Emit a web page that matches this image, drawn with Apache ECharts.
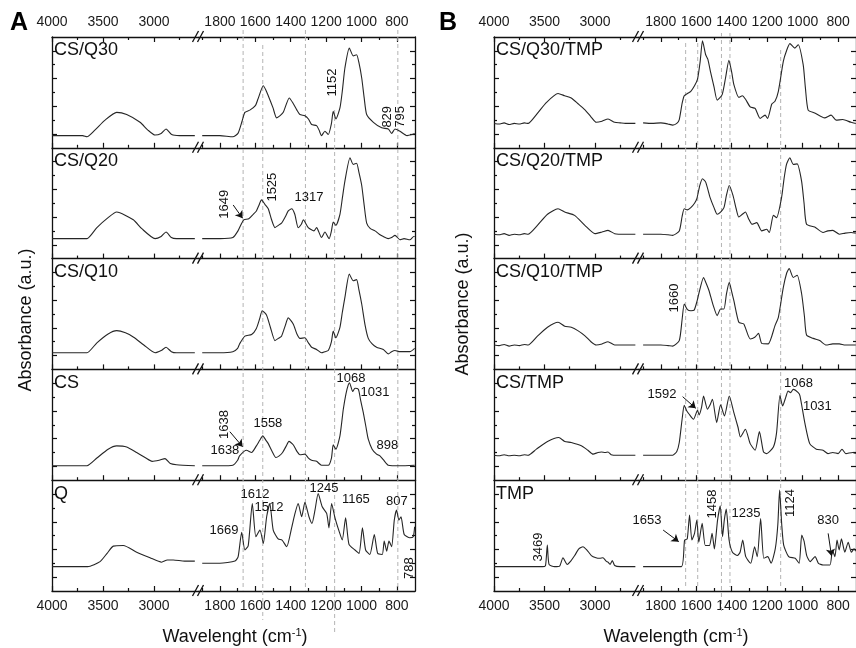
<!DOCTYPE html>
<html>
<head>
<meta charset="utf-8">
<script src="https://cdn.jsdelivr.net/npm/echarts@6/dist/echarts.min.js"></script>
<style>
  html, body { margin: 0; padding: 0; background: #fff; }
  #chart { width: 856px; height: 648px; }
</style>
</head>
<body>
<div id="chart"></div>
<script>
// FTIR spectra, two panels x five stacked rows, broken wavenumber axis.
// Each spectrum is split in a high range (4000-2600) and a low range (1900-700).
// Values are absorbance in arbitrary units, 0-100 per row.

var rowNamesA = ['CS/Q30', 'CS/Q20', 'CS/Q10', 'CS', 'Q'];
var rowNamesB = ['CS/Q30/TMP', 'CS/Q20/TMP', 'CS/Q10/TMP', 'CS/TMP', 'TMP'];

var hiTicks = [3000, 3500, 4000];
var hiMinor = [2750, 3250, 3750];
var loTicks = [800, 1000, 1200, 1400, 1600, 1800];
var loMinor = [900, 1100, 1300, 1500, 1700, 1900];
var yTicks = [12.5, 37.5, 62.5, 87.5];
var yMinor = [25, 50, 75];

// ---- panel A ----
var csq30High = [[4000,11],[3850,11],[3700,11],[3657,10],[3580,16],[3480,25],[3366,32],[3268,30],[3137,23],[3060,16],[2990,11.5],[2930,13],[2882,17],[2827,12],[2750,11],[2600,11]];
var csq30Low = [[1900,11],[1800,11],[1727,10],[1698,13],[1675,24],[1659,32],[1631,34],[1600,38],[1585,44],[1555,56],[1540,52],[1527,47],[1500,36],[1480,27],[1460,29],[1442,32],[1408,45],[1386,40],[1365,34],[1348,30],[1320,29],[1300,26],[1282,21],[1254,20],[1240,16],[1226,11],[1207,15],[1188,12],[1170,22],[1160,33],[1145,26],[1122,36],[1108,52],[1094,72],[1069,90],[1047,83],[1028,84],[1015,77],[999,63],[985,45],[971,30],[933,23],[886,18],[849,17],[830,13],[811,17],[783,15],[743,11],[715,12],[700,13]];

var csq20High = [[4000,18],[3700,18],[3657,18],[3560,28],[3450,37],[3366,42],[3203,35],[3120,27],[2990,18],[2930,20],[2882,24],[2830,19],[2780,18],[2600,18]];
var csq20Low = [[1900,18],[1800,18],[1727,19],[1698,25],[1680,31],[1665,35],[1637,36],[1612,40],[1594,43],[1580,48],[1565,53],[1546,49],[1527,45],[1510,36],[1489,28],[1470,30],[1452,32],[1430,38],[1414,43],[1395,45],[1377,40],[1358,28],[1340,31],[1329,35],[1301,28],[1269,25],[1254,28],[1226,19],[1207,24],[1183,18],[1170,25],[1160,33],[1145,30],[1122,40],[1108,55],[1094,70],[1065,91],[1047,85],[1028,86],[1015,78],[999,66],[985,48],[971,32],[950,27],[924,25],[900,22],[877,20],[849,18],[830,19],[811,21],[783,17],[760,18],[727,17],[705,20],[700,20]];

var csq10High = [[4000,15],[3700,15],[3657,15],[3560,24],[3450,32],[3366,35],[3280,33],[3200,29],[3100,22],[2990,15],[2930,17],[2882,20],[2830,16],[2780,15],[2600,15]];
var csq10Low = [[1900,15],[1800,15],[1727,16],[1700,19],[1689,23],[1659,30],[1621,31.5],[1594,37],[1575,46],[1561,53],[1537,49],[1515,38],[1489,26],[1470,28],[1452,30],[1430,40],[1414,46.5],[1386,41],[1365,32],[1348,28],[1320,28.5],[1300,24],[1282,20],[1254,18],[1226,15],[1207,16],[1188,17],[1170,25],[1160,34.5],[1145,28.5],[1122,38],[1108,52],[1094,65],[1069,86],[1047,80],[1028,81],[1015,72],[999,59],[980,40],[962,28],[940,23],[915,20],[877,18],[849,14],[830,16],[811,17],[783,16],[760,16],[727,16],[700,19]];

var csHigh = [[4000,13],[3700,13],[3657,13],[3560,20],[3450,28],[3366,31],[3268,30],[3170,25],[3080,20],[3019,17],[2950,18],[2892,19.5],[2840,15],[2780,14],[2600,13]];
var csLow = [[1900,13],[1800,13],[1727,13.5],[1700,18],[1689,22],[1650,27],[1621,25],[1594,31],[1575,36],[1558,40],[1540,36],[1527,33],[1505,26],[1484,20.5],[1465,22],[1446,25],[1425,31],[1410,35],[1386,32],[1365,26],[1348,23],[1320,23.5],[1300,20],[1282,18],[1254,17],[1226,13.5],[1188,13.5],[1170,20],[1160,32],[1145,28],[1122,40],[1103,64],[1088,78],[1075,86],[1068,88],[1050,80],[1037,83],[1018,82],[1005,72],[990,61],[975,48],[962,37],[940,28],[915,23.5],[896,22],[877,18.5],[849,13.5],[783,13],[700,13.5]];

var qHigh = [[4000,22],[3800,22],[3650,22],[3529,26.5],[3460,34],[3399,40.5],[3301,41],[3170,35],[3039,30],[2925,26],[2870,28],[2811,28],[2700,27],[2600,27]];
var qLow = [[1900,25],[1800,25],[1715,27],[1697,31],[1677,53],[1659,37],[1640,41],[1617,79],[1597,49],[1574,55],[1555,43],[1536,67],[1518,79],[1499,55],[1471,47],[1449,46],[1423,40],[1395,57],[1376,70],[1358,79],[1338,67],[1320,80],[1297,67],[1280,61],[1263,73],[1245,88],[1222,76],[1197,70],[1184,57],[1169,79],[1150,66],[1127,54],[1109,46],[1090,66],[1071,42],[1037,37],[1014,34],[995,57],[977,37],[953,33],[928,51],[909,34],[883,33],[872,45],[858,36],[845,45],[830,40],[815,64],[802,73],[789,64],[777,67],[759,51],[727,48],[708,49],[700,58]];

// ---- panel B ----
var csq30tmpHigh = [[4000,22],[3950,21.5],[3900,22.5],[3850,21],[3800,22],[3750,21.5],[3700,22.5],[3663,22],[3580,30],[3480,41],[3366,49],[3300,47],[3235,45],[3170,40],[3102,34.5],[3040,28],[2987,23],[2930,24],[2871,26],[2805,23],[2750,22.5],[2700,22],[2600,22]];
var csq30tmpLow = [[1900,22.5],[1850,22],[1800,22.5],[1760,21.5],[1733,20.5],[1710,22],[1696,25.5],[1680,40],[1668,47],[1650,49],[1631,51],[1610,56],[1593,62],[1578,78],[1565,96.5],[1547,84],[1535,80],[1519,68],[1500,55],[1482,43],[1454,48],[1435,63],[1416,79],[1400,68],[1388,57],[1360,45.5],[1340,47],[1323,44],[1296,37],[1268,35.5],[1240,26.5],[1212,29.5],[1198,26.5],[1174,39.5],[1156,42],[1137,51],[1109,78],[1090,88],[1072,94],[1044,90],[1025,93],[997,75],[985,55],[969,34],[932,31.5],[876,27],[839,29.5],[811,25],[774,25.5],[727,23],[700,22]];

var csq20tmpHigh = [[4000,22],[3950,21.5],[3900,22.5],[3850,21],[3800,22],[3750,21.5],[3700,22.5],[3663,22],[3570,30],[3470,40],[3366,45],[3300,42],[3202,39],[3100,30],[3000,22.5],[2930,24],[2871,25.5],[2805,22.5],[2700,22],[2600,22]];
var csq20tmpLow = [[1900,22],[1800,22],[1760,21.5],[1733,21],[1696,25],[1680,38],[1668,45],[1650,44],[1631,46],[1610,50],[1597,54],[1580,66],[1565,72],[1547,69],[1522,55],[1500,46],[1482,40],[1463,42],[1444,46],[1430,57],[1414,66],[1393,57],[1375,45],[1360,37.5],[1340,40],[1323,42],[1305,36],[1286,31],[1259,32.5],[1231,25],[1203,26.5],[1188,23.5],[1165,39],[1147,37],[1119,55],[1105,72],[1091,85],[1072,91],[1053,85],[1031,85.5],[1006,70],[992,50],[978,31],[932,28.5],[885,23.5],[858,25],[830,25.5],[793,22],[760,23],[727,23.5],[700,23]];

var csq10tmpHigh = [[4000,22],[3950,21.5],[3900,22.5],[3850,21],[3800,22],[3750,21.5],[3700,22.5],[3663,22],[3570,30],[3470,38],[3366,42.5],[3300,39],[3235,38],[3170,35],[3102,30.5],[3040,25],[2987,22],[2930,23],[2871,25],[2805,22],[2700,22],[2600,22]];
var csq10tmpLow = [[1900,22],[1800,22],[1760,21.5],[1733,21],[1696,26],[1680,45],[1668,59],[1650,54],[1630,53],[1612,53.5],[1595,62],[1584,69.5],[1559,83],[1545,78],[1528,71],[1505,58],[1482,48.5],[1463,54.5],[1444,54.5],[1430,68],[1414,78.5],[1400,70],[1388,62],[1360,42.5],[1332,41],[1296,27.5],[1270,29],[1249,32.5],[1231,23.5],[1194,23],[1156,39.5],[1137,47],[1109,74],[1090,87],[1076,91],[1053,83],[1031,85],[1006,68.5],[990,48],[978,31],[941,28],[904,26],[867,22],[830,23],[793,23],[760,22],[727,22],[700,22]];

var cstmpHigh = [[4000,22.5],[3950,22],[3900,23],[3850,22],[3800,22.5],[3750,22],[3700,23],[3663,22.5],[3580,28],[3470,35],[3359,38.5],[3300,35],[3235,34],[3135,31],[3070,27],[3019,23.5],[2970,25],[2937,25.5],[2900,25],[2871,25.5],[2840,23],[2780,22.5],[2600,22.5]];
var cstmpLow = [[1900,22.5],[1800,22.5],[1733,22.5],[1710,26],[1696,34],[1680,55],[1668,67.5],[1655,63],[1640,59.5],[1616,55],[1593,63],[1584,59],[1570,66],[1559,76],[1537,64],[1522,68],[1509,73],[1485,52],[1463,68],[1441,58],[1414,76],[1388,61],[1365,48],[1351,39],[1323,46],[1296,33],[1268,27],[1244,44],[1221,25.5],[1203,24],[1165,30],[1147,43],[1128,76.5],[1113,67],[1095,75],[1082,80.5],[1068,79],[1053,82],[1025,79],[1015,76],[988,52],[960,33],[923,28],[885,27],[857,24],[830,25],[800,24],[778,28],[756,24],[718,25],[700,24]];

var tmpHigh = [[4000,22],[3700,22],[3520,22],[3490,23],[3472,41.5],[3455,24],[3400,22],[3350,22.5],[3317,30],[3275,24],[3240,27],[3201,32],[3160,38],[3119,40],[3080,37],[3036,32],[2990,30],[2954,29.5],[2921,30],[2890,27],[2871,26],[2850,24],[2828,27.5],[2805,23],[2750,22],[2600,22]];
var tmpLow = [[1900,22],[1800,22],[1684,22],[1666,46],[1651,47],[1638,68.5],[1625,46],[1610,52],[1597,64],[1586,44],[1567,61],[1549,41],[1526,41],[1511,52],[1498,38],[1480,64],[1465,77],[1452,49],[1442,64],[1431,74],[1415,46],[1396,35],[1368,32],[1353,35],[1338,46],[1321,31],[1293,25],[1271,40],[1256,31],[1237,65.5],[1219,29.5],[1197,31],[1178,25],[1154,38.5],[1140,60],[1130,91],[1118,60],[1107,41.5],[1079,31],[1042,29.5],[1020,25],[1005,50.5],[992,45],[977,32],[958,26.5],[930,31],[911,25],[884,23.5],[846,23.5],[832,37],[818,31],[806,46],[794,37],[781,47],[762,35],[743,44],[725,35],[710,38],[700,36]];

var spectra = [
    [[csq30High, csq30Low], [csq20High, csq20Low], [csq10High, csq10Low], [csHigh, csLow], [qHigh, qLow]],
    [[csq30tmpHigh, csq30tmpLow], [csq20tmpHigh, csq20tmpLow], [csq10tmpHigh, csq10tmpLow], [cstmpHigh, cstmpLow], [tmpHigh, tmpLow]]
];

// peak labels: [panel, row, segment(0 high / 1 low), wavenumber, absorbance, text, vertical]
var peakNotes = [
    [0,0,1,1162,59,'1152',1], [0,0,1,856,28,'829',1], [0,0,1,783,28,'795',1],
    [0,1,1,1777,49,'1649',1], [0,1,1,1506,64.5,'1525',1], [0,1,1,1297,55.6,'1317',0],
    [0,3,1,1060,92.3,'1068',0], [0,3,1,924,79.2,'1031',0], [0,3,1,1777,50.3,'1638',1],
    [0,3,1,1772,27.3,'1638',0], [0,3,1,1529,51.6,'1558',0], [0,3,1,854,31.3,'898',0],
    [0,4,1,1602,87.4,'1612',0], [0,4,1,1523,75.8,'1512',0], [0,4,1,1212,92.5,'1245',0],
    [0,4,1,1032,83,'1165',0], [0,4,1,800,80.8,'807',0], [0,4,1,1777,55,'1669',0],
    [0,4,1,727,20.7,'788',1],
    [1,2,1,1722,64.4,'1660',1],
    [1,3,1,1794,77,'1592',0], [1,3,1,1023,87.7,'1068',0], [1,3,1,917,66.5,'1031',0],
    [1,4,1,1507,78.5,'1458',1], [1,4,1,1320,70.4,'1235',0], [1,4,1,1068,79.4,'1124',1],
    [1,4,1,856,64,'830',0], [1,4,1,1878,64,'1653',0], [1,4,0,3564,39.7,'3469',1]
];

// arrows: [panel, row, fromWn, fromAbs, toWn, toAbs]
var peakArrows = [
    [0,1,1725,48.4,1672,36.4],
    [0,3,1744,43.8,1672,30.2],
    [1,3,1677,75.4,1603,64.9],
    [1,4,856,52,837,31.6],
    [1,4,1787,55,1699,44.5]
];

// dashed guide lines per panel (wavenumbers)
var guidesA = [1669, 1558, 1317, 1152, 795];
var guidesB = [1660, 1592, 1458, 1410, 1124];
// vertical extent of each guide in pixels (style only)
var guideSpanA = [[30,591],[45,620],[30,591],[110,632],[30,591]];
var guideSpanB = [[43,587],[43,587],[33,612],[33,587],[50,587]];

// ---- layout ----
var FONT = '"Liberation Sans", Arial, sans-serif';
var ROW_TOP = 37, ROW_H = 110.8;
var panelBox = [
    { hi: [52, 146.5], lo: [198.5, 216.5], hiRange: [2564, 4000], loRange: [698, 1921] },
    { hi: [494, 144.5], lo: [638.5, 219.5], hiRange: [2569, 4000], loRange: [699, 1926] }
];

function plainNumber(v) { return String(v); }

function xAxisDef(g, rng, pos, ticks, len, line, labels) {
    return {
        type: 'value', gridIndex: g, min: rng[0], max: rng[1], inverse: true, position: pos,
        axisLine: { show: line, onZero: false, lineStyle: { color: '#111', width: 1.3 } },
        axisTick: { show: true, inside: true, length: len, customValues: ticks, lineStyle: { color: '#111', width: 1.2 } },
        axisLabel: { show: labels, customValues: ticks, formatter: plainNumber, margin: 8, color: '#1a1a1a', fontSize: 14, fontFamily: FONT },
        splitLine: { show: false }
    };
}

function yAxisDef(g, side, ticks, len, line) {
    return {
        type: 'value', gridIndex: g, min: 0, max: 100, position: side,
        axisLine: { show: line, onZero: false, lineStyle: { color: '#111', width: 1.3 } },
        axisTick: { show: true, inside: true, length: len, customValues: ticks, lineStyle: { color: '#111', width: 1.2 } },
        axisLabel: { show: false },
        splitLine: { show: false }
    };
}

var grids = [], xAxes = [], yAxes = [], series = [];
var seriesAt = {}; // 'p-r-s' -> series index

for (var p = 0; p < 2; p++) {
    for (var r = 0; r < 5; r++) {
        for (var s = 0; s < 2; s++) {
            var g = grids.length;
            var box = s === 0 ? panelBox[p].hi : panelBox[p].lo;
            var rng = s === 0 ? panelBox[p].hiRange : panelBox[p].loRange;
            var maj = s === 0 ? hiTicks : loTicks;
            var mnr = s === 0 ? hiMinor : loMinor;
            grids.push({ left: box[0], width: box[1], top: ROW_TOP + r * ROW_H, height: ROW_H, containLabel: false });
            var xi = xAxes.length;
            xAxes.push(xAxisDef(g, rng, 'bottom', maj, 5, true, r === 4));
            xAxes.push(xAxisDef(g, rng, 'bottom', mnr, 3, false, false));
            if (r === 0) {
                xAxes.push(xAxisDef(g, rng, 'top', maj, 5, true, true));
                xAxes.push(xAxisDef(g, rng, 'top', mnr, 3, false, false));
            }
            var yi = yAxes.length;
            var side = s === 0 ? 'left' : 'right';
            yAxes.push(yAxisDef(g, side, yTicks, 5, true));
            yAxes.push(yAxisDef(g, side, yMinor, 3, false));

            var arrows = [];
            for (var k = 0; k < peakArrows.length; k++) {
                var a = peakArrows[k];
                if (s === 1 && a[0] === p && a[1] === r) {
                    arrows.push([{ coord: [a[2], a[3]] }, { coord: [a[4], a[5]] }]);
                }
            }
            seriesAt[p + '-' + r + '-' + s] = series.length;
            series.push({
                type: 'line', xAxisIndex: xi, yAxisIndex: yi,
                data: spectra[p][r][s],
                showSymbol: false, smooth: 0.2, silent: true,
                lineStyle: { color: '#262626', width: 1.1 },
                markLine: arrows.length ? {
                    silent: true, symbol: ['none', 'arrow'], symbolSize: 7,
                    label: { show: false },
                    lineStyle: { color: '#111', width: 1, type: 'solid' },
                    data: arrows
                } : undefined
            });
        }
    }
}

var chart = echarts.init(document.getElementById('chart'), null, { renderer: 'canvas' });
chart.setOption({
    animation: false,
    backgroundColor: '#fff',
    grid: grids,
    xAxis: xAxes,
    yAxis: yAxes,
    series: series
});

// ---- overlays placed through the chart's own scales ----
var graphics = [];

function txt(x, y, text, size, rot, extra) {
    var o = {
        type: 'text', x: x, y: y, rotation: rot || 0, silent: true, z: 100,
        style: { text: text, fill: '#111', fontSize: size, fontFamily: FONT, align: 'center', verticalAlign: 'middle' }
    };
    if (extra) { for (var key in extra) o.style[key] = extra[key]; }
    return o;
}

// dashed guide lines
var guideSets = [[guidesA, guideSpanA], [guidesB, guideSpanB]];
for (var gp = 0; gp < 2; gp++) {
    var gs = guideSets[gp];
    var si0 = seriesAt[gp + '-0-1'];
    for (var gi = 0; gi < gs[0].length; gi++) {
        var px = chart.convertToPixel({ seriesIndex: si0 }, [gs[0][gi], 50])[0];
        graphics.push({
            type: 'line', silent: true, z: 1,
            shape: { x1: px, y1: gs[1][gi][0], x2: px, y2: gs[1][gi][1] },
            style: { stroke: '#b4b4b4', lineWidth: 1, lineDash: [4, 3] }
        });
    }
}

// peak labels
for (var n = 0; n < peakNotes.length; n++) {
    var pn = peakNotes[n];
    var pt = chart.convertToPixel({ seriesIndex: seriesAt[pn[0] + '-' + pn[1] + '-' + pn[2]] }, [pn[3], pn[4]]);
    graphics.push(txt(pt[0], pt[1], pn[5], 13, pn[6] ? Math.PI / 2 : 0));
}

// row names
var names = [rowNamesA, rowNamesB];
for (var np = 0; np < 2; np++) {
    for (var nr = 0; nr < 5; nr++) {
        graphics.push(txt(panelBox[np].hi[0] + 2, ROW_TOP + nr * ROW_H + 13.5, names[np][nr], 18, 0, { align: 'left' }));
    }
}

// axis break marks
for (var bp = 0; bp < 2; bp++) {
    var bx = panelBox[bp].lo[0];
    for (var bk = 0; bk <= 5; bk++) {
        var by = ROW_TOP + bk * ROW_H;
        graphics.push({ type: 'line', silent: true, z: 50, shape: { x1: bx - 6, y1: by + 5, x2: bx, y2: by - 6 }, style: { stroke: '#111', lineWidth: 1.3 } });
        graphics.push({ type: 'line', silent: true, z: 50, shape: { x1: bx - 1, y1: by + 5, x2: bx + 5, y2: by - 6 }, style: { stroke: '#111', lineWidth: 1.3 } });
    }
}

// panel letters and axis titles
graphics.push(txt(19, 23, 'A', 25, 0, { fontWeight: 'bold', fill: '#000' }));
graphics.push(txt(448, 23, 'B', 25, 0, { fontWeight: 'bold', fill: '#000' }));
var supRich = { sup: { fontSize: 11, fontFamily: FONT, fill: '#111', verticalAlign: 'top', padding: [0, 0, 8, 0] } };
graphics.push(txt(235, 637, 'Wavelenght (cm{sup|-1})', 18, 0, { rich: supRich }));
graphics.push(txt(676, 637, 'Wavelength (cm{sup|-1})', 18, 0, { rich: supRich }));
graphics.push(txt(26, 320, 'Absorbance (a.u.)', 18, Math.PI / 2));
graphics.push(txt(463, 304, 'Absorbance (a.u.)', 18, Math.PI / 2));

chart.setOption({ graphic: graphics });
</script>
</body>
</html>
